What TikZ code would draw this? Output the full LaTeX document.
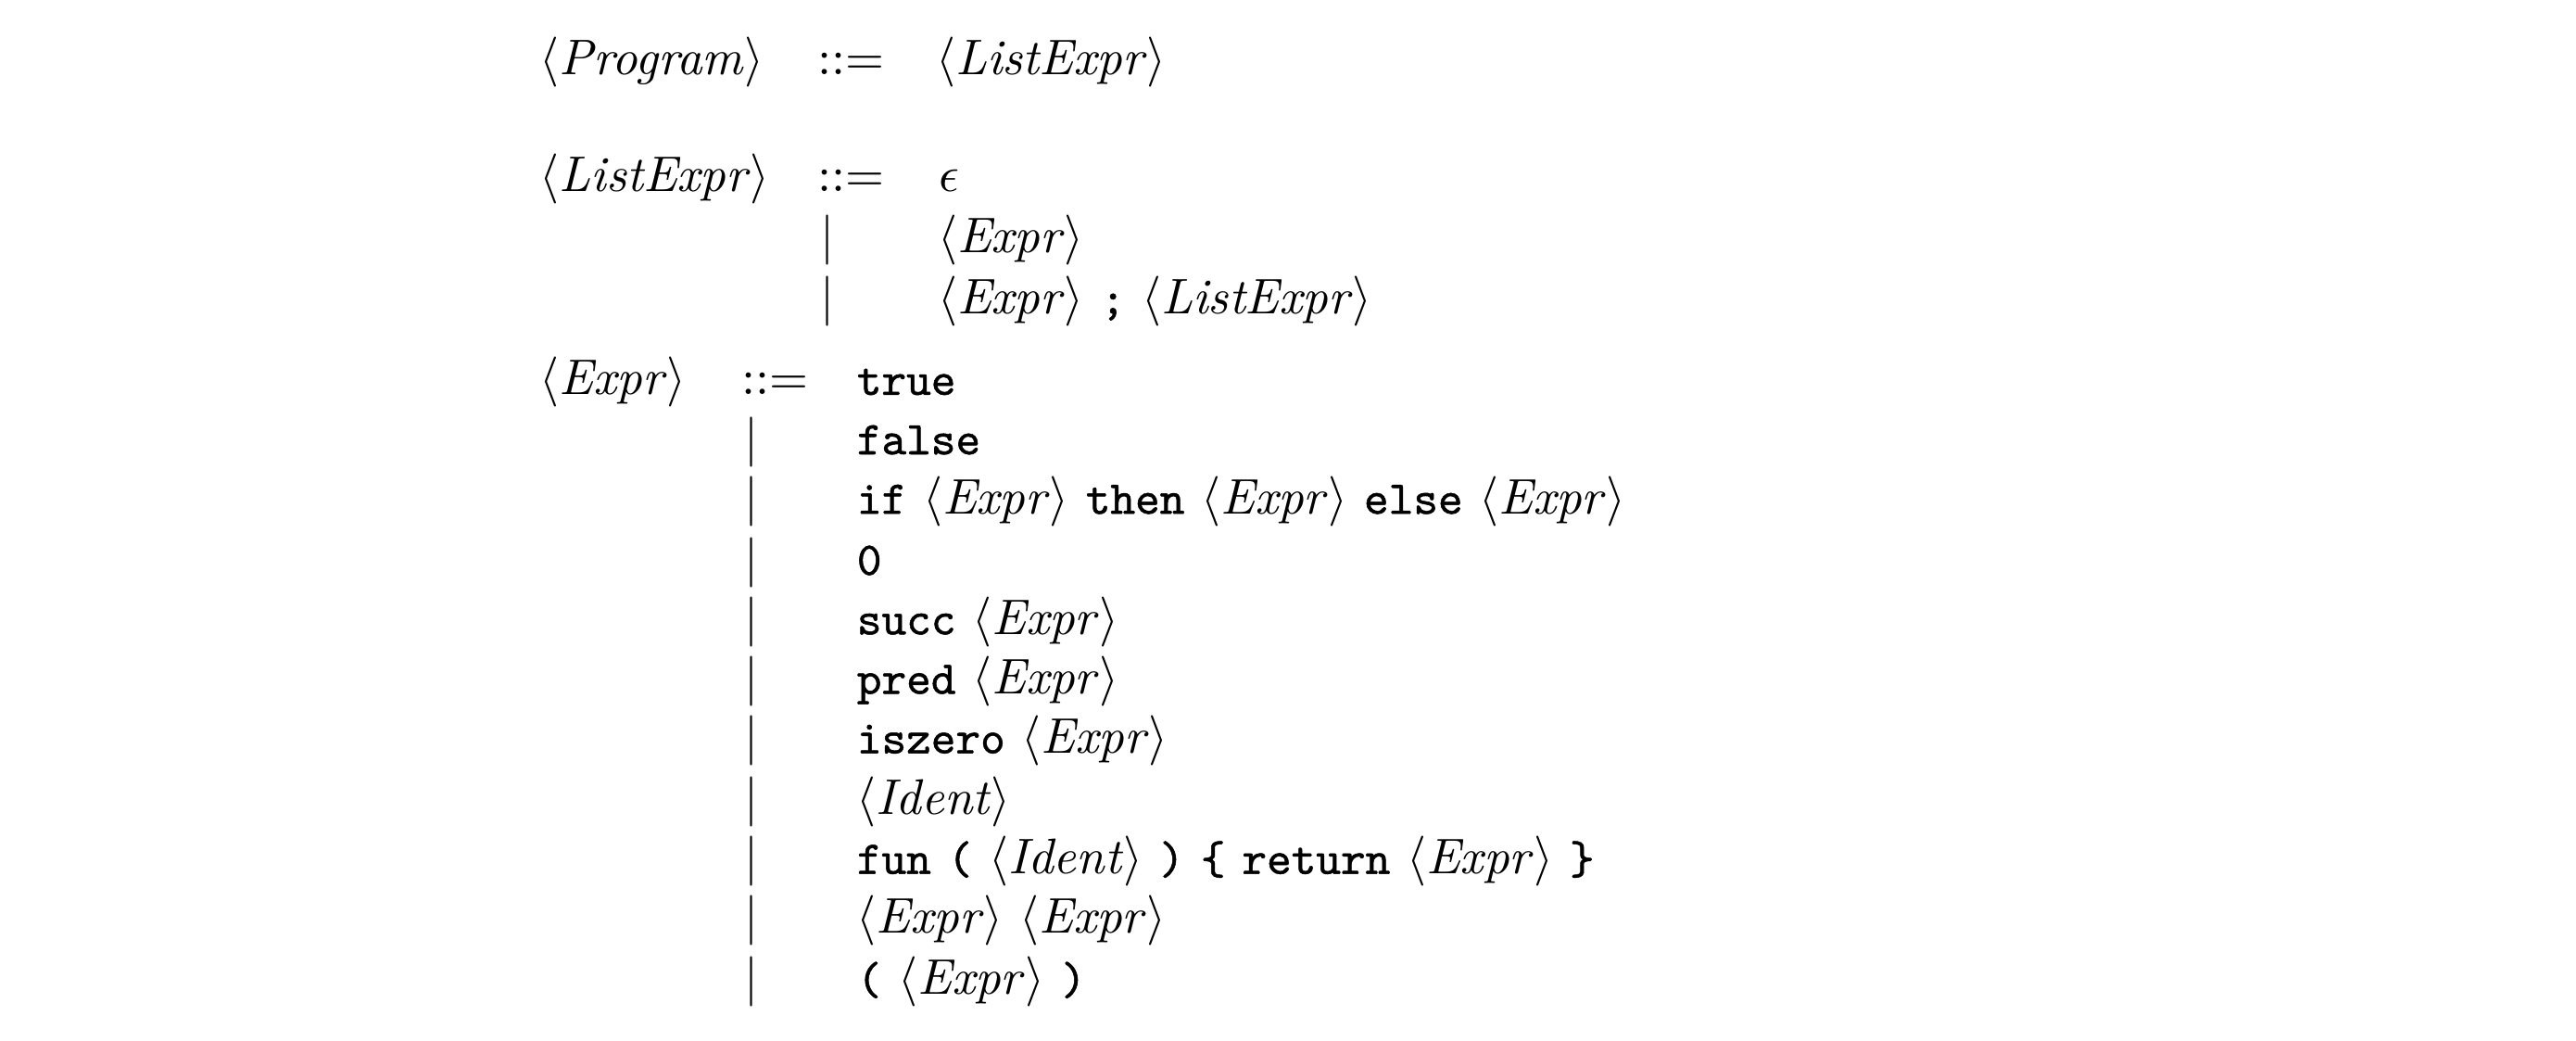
\documentclass[tikz,border=0pt]{standalone}
\usepackage{fontspec}
\setmonofont{lmmono10-regular}[Extension=.otf, Scale=0.94, FakeBold=1.0]
\newcommand{\nt}[1]{$\langle\textit{#1\/}\rangle$}
\begin{document}
\begin{tikzpicture}[x=0.33pt,y=-0.33pt,
  g/.style={anchor=base west, inner sep=0pt, outer sep=0pt},
  bar/.style={anchor=base, inner sep=0pt, outer sep=0pt}]
\useasboundingbox (0,0) rectangle (1560,630);
% Program
\node[g] (pl) at (327,45) {\nt{Program}};
\node[g] (pd) at (495,45) {$::=$};
\node[g] (pr) at (567,45) {\nt{ListExpr}};
% ListExpr
\node[g] (ll) at (327,116) {\nt{ListExpr}};
\node[g] (ld) at (495,116) {$::=$};
\node[g] (l1) at (569,116) {$\epsilon$};
\node[bar] (lb2) at (501,153) {$|$};
\node[g] (l2) at (568,153) {\nt{Expr}};
\node[bar] (lb3) at (501,190) {$|$};
\node[g] (l3) at (568,190) {\nt{Expr} \texttt{;} \nt{ListExpr}};
% Expr
\node[g] (el) at (327,239) {\nt{Expr}};
\node[g] (ed) at (449,239) {$::=$};
\node[g] (e1) at (519,239) {\texttt{true}};
\foreach \y/\n/\t in {
  275/e2/{\texttt{false}},
  311/e3/{\texttt{if} \nt{Expr} \texttt{then} \nt{Expr} \texttt{else} \nt{Expr}},
  348/e4/{\texttt{0}},
  384/e5/{\texttt{succ} \nt{Expr}},
  420/e6/{\texttt{pred} \nt{Expr}},
  456/e7/{\texttt{iszero} \nt{Expr}},
  493/e8/{\nt{Ident}},
  529/e9/{\texttt{fun} \texttt{(} \nt{Ident} \texttt{)} \texttt{\{} \texttt{return} \nt{Expr} \texttt{\}}},
  565/e10/{\nt{Expr} \nt{Expr}},
  602/e11/{\texttt{(} \nt{Expr} \texttt{)}}}{
  \node[bar] (b\n) at (455,\y) {$|$};
  \node[g] (\n) at (519,\y) {\t};
}
\end{tikzpicture}
\end{document}
